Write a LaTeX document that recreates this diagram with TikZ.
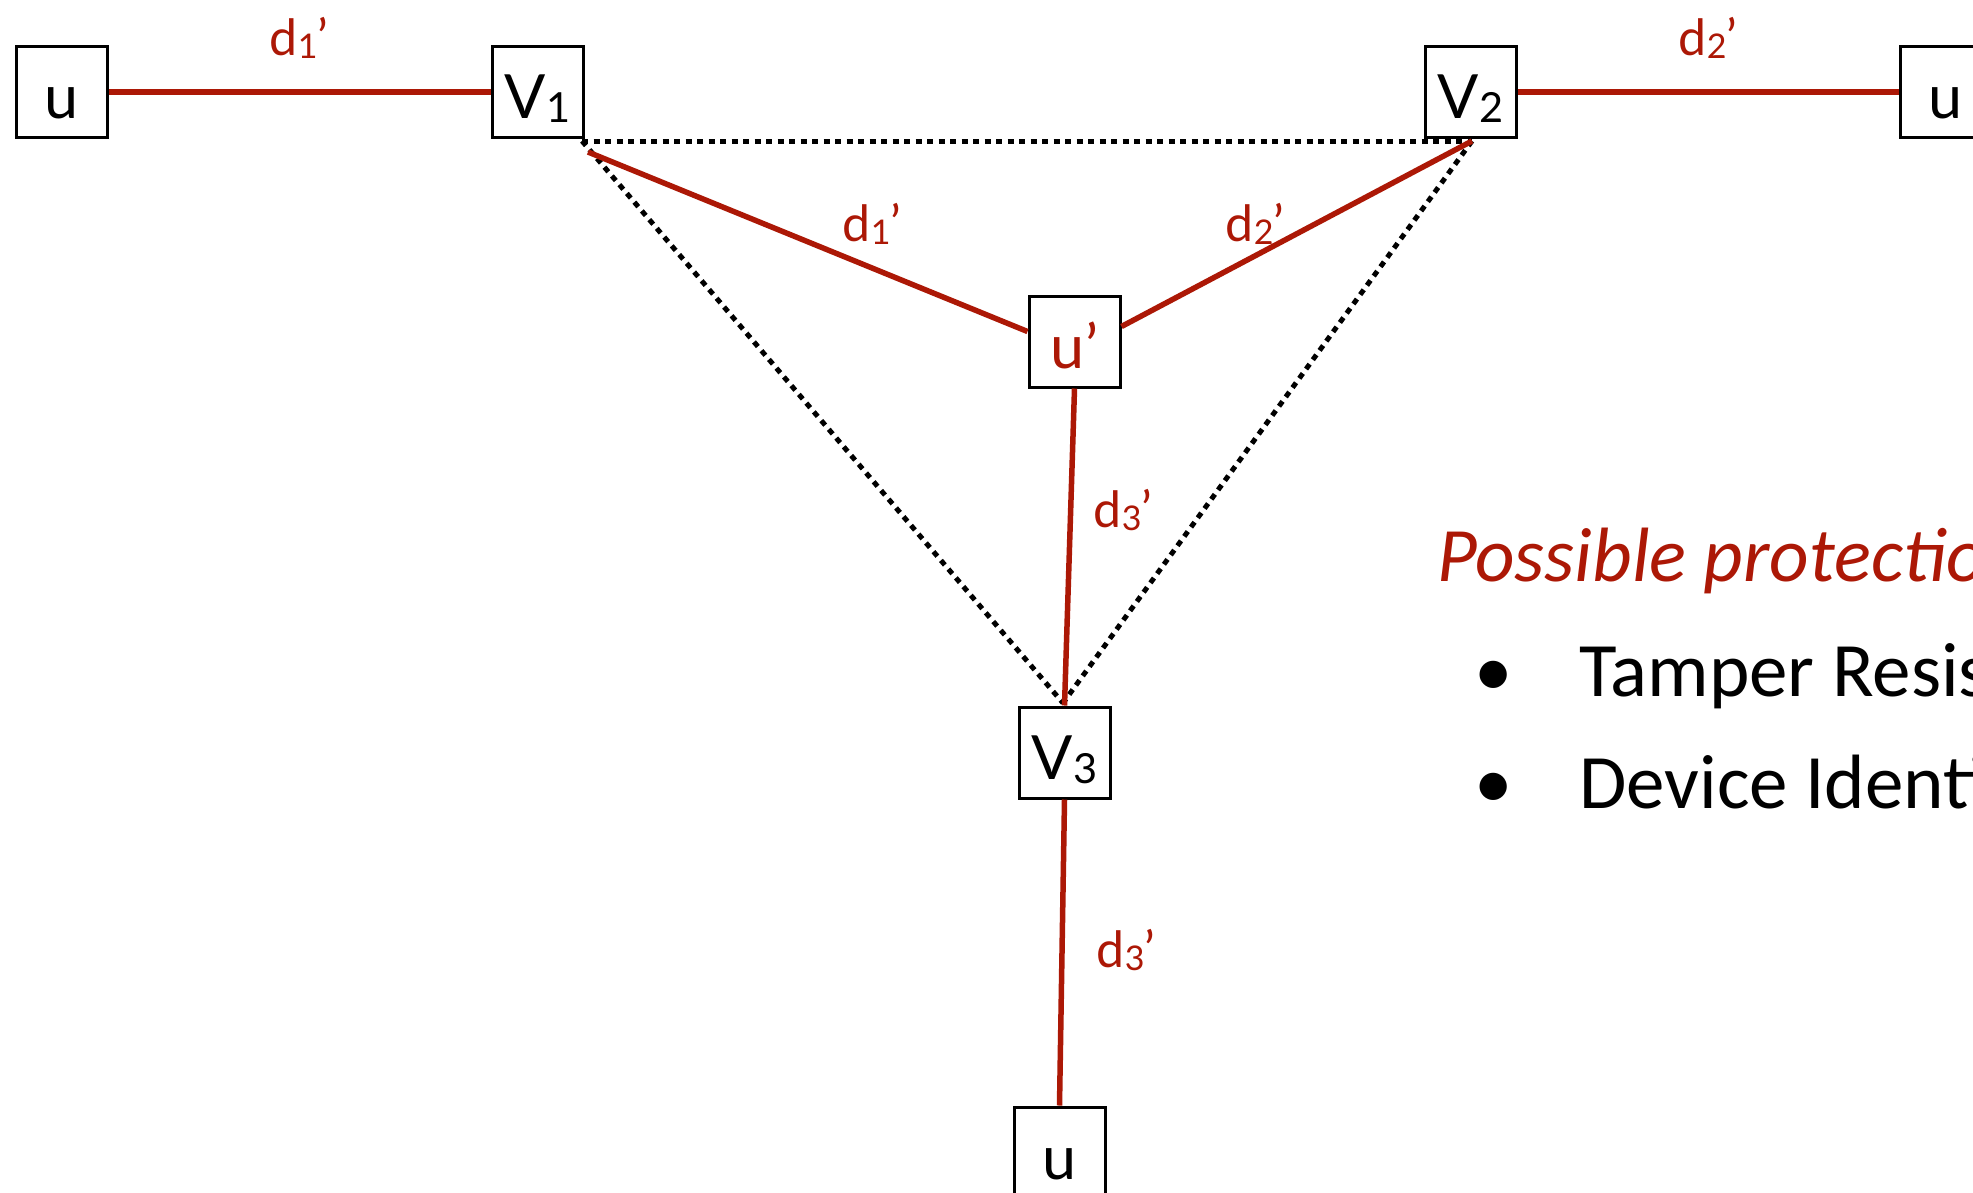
\documentclass[tikz,border=0pt]{standalone}
\usepackage{fontspec}
\setmainfont{Lato}
\newfontfamily\calib{Carlito}
\usetikzlibrary{calc}
\definecolor{dred}{RGB}{172,24,6}
\newcommand\sbx[1]{\raisebox{-0.07em}{\scalebox{0.68}{#1}}}
\begin{document}
\begin{tikzpicture}[x=1pt,y=-1pt,
  box/.style={draw=black, line width=3pt, minimum width=91pt, minimum height=91pt, inner sep=0pt,
    text height=72pt, text depth=19pt, font=\fontsize{61}{63}\selectfont, fill=white},
  redline/.style={draw=dred, line width=5.5pt},
  dotline/.style={draw=black, line width=5pt, dash pattern=on 6pt off 5.5pt},
  elab/.style={text=dred, font=\fontsize{50}{52}\selectfont, inner sep=0pt},
  sidetext/.style={anchor=base west, inner sep=0pt, font=\calib\fontsize{77}{80}\selectfont}]
\useasboundingbox (0,0) rectangle (1973,1192);
\clip (0,0) rectangle (1973,1192);
% nodes
\node[box] (uL) at (62,92) {u};
\node[box] (V1) at (537.5,92) {V\sbx{1}};
\node[box] (V2) at (1470.5,92) {V\sbx{2}};
\node[box] (uR) at (1945.5,92) {u};
\node[box, text=dred] (up) at (1074.5,341.5) {u’};
\node[box] (V3) at (1064.5,752.5) {V\sbx{3}};
\node[box] (uB) at (1059.5,1152.5) {u};
% helper points
\coordinate (A) at (582,141);
\coordinate (B) at (1472,141);
\coordinate (C) at (1063,703);
\coordinate (R1) at (588,152);
% dotted triangle
\draw[dotline] (A) -- (B);
\draw[dotline] (A) -- (C);
\draw[dotline] (B) -- (C);
% red connectors
\draw[redline] (uL.east) -- (V1.west);
\draw[redline] (V2.east) -- (uR.west);
\draw[redline] (R1) -- ($(up.west)+(0,-10)$);
\draw[redline] (B) -- ($(up.east)+(0,-15)$);
\draw[redline] (up.south) -- (V3.north);
\draw[redline] (V3.south) -- (uB.north);
% edge labels
\node[elab] (l1) at (299,38) {d\sbx{1}’};
\node[elab] (l2) at (1708,38) {d\sbx{2}’};
\node[elab] (l3) at (872,224) {d\sbx{1}’};
\node[elab] (l4) at (1255,224) {d\sbx{2}’};
\node[elab] (l5) at (1123,510) {d\sbx{3}’};
\node[elab] (l6) at (1126,950) {d\sbx{3}’};
% side text
\node[sidetext, text=dred, font=\calib\itshape\fontsize{77}{80}\selectfont] (ptitle) at (1437,581) {Possible protections:};
\node[sidetext, anchor=base] (b1) at (1494,696) {•};
\node[sidetext] (t1) at (1579,696) {Tamper Resistance};
\node[sidetext, anchor=base] (b2) at (1494,808) {•};
\node[sidetext] (t2) at (1579,808) {Device Identification};
\end{tikzpicture}
\end{document}
